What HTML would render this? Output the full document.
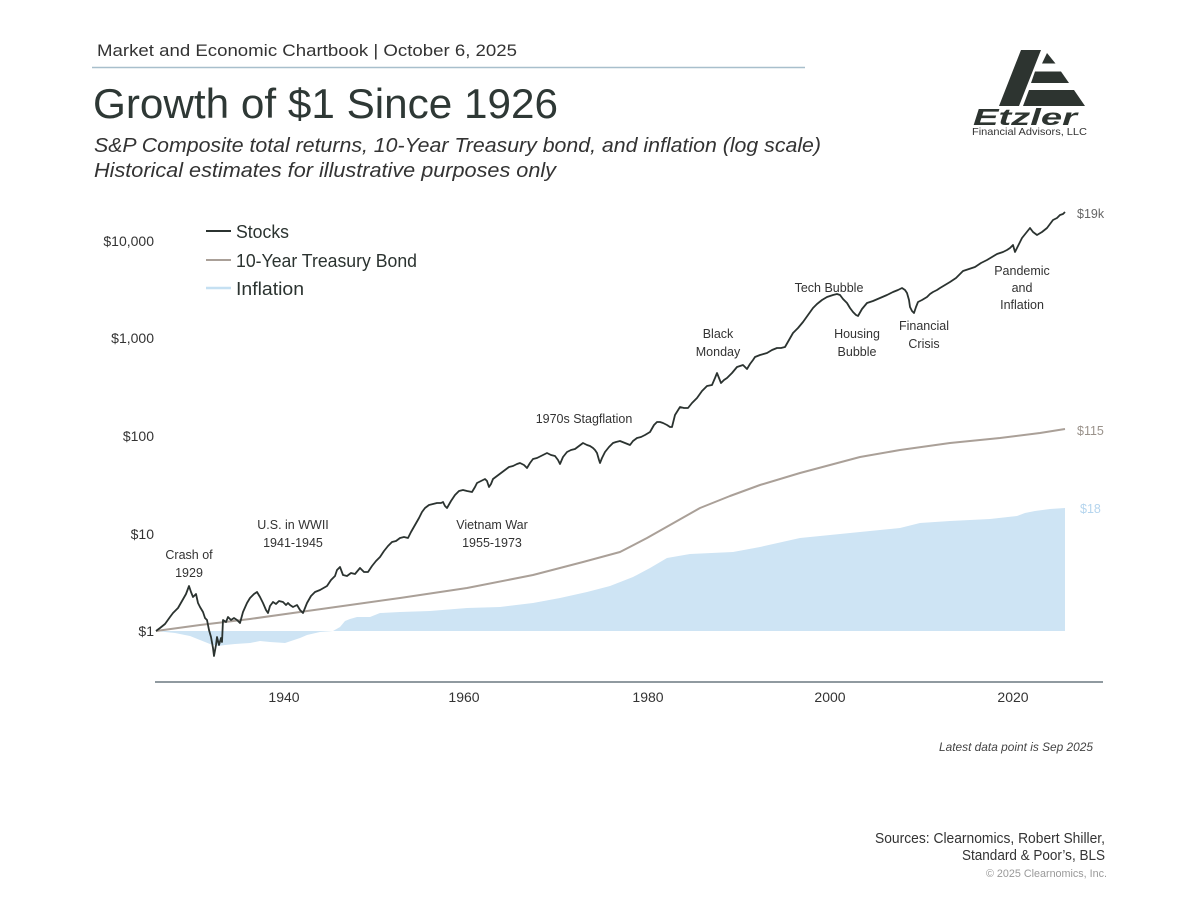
<!DOCTYPE html>
<html>
<head>
<meta charset="utf-8">
<style>
  html, body { margin:0; padding:0; background:#ffffff; }
  body { width:1200px; height:900px; overflow:hidden; }
  svg { display:block; }
  text { font-family: "Liberation Sans", "DejaVu Sans", sans-serif; }
</style>
</head>
<body>
<svg width="1200" height="900" viewBox="0 0 1200 900" xmlns="http://www.w3.org/2000/svg">
  <rect width="1200" height="900" fill="#ffffff"/>

  <!-- Header -->
  <text x="97" y="56" font-size="17" fill="#333" textLength="420" lengthAdjust="spacingAndGlyphs">Market and Economic Chartbook | October 6, 2025</text>
  <line x1="92" y1="67.5" x2="805" y2="67.5" stroke="#a8bfcc" stroke-width="1.5"/>
  <text x="93" y="118" font-size="42" fill="#2e3835" textLength="465" lengthAdjust="spacingAndGlyphs">Growth of $1 Since 1926</text>
  <text x="94" y="152" font-size="20" font-style="italic" fill="#333" textLength="727" lengthAdjust="spacingAndGlyphs">S&amp;P Composite total returns, 10-Year Treasury bond, and inflation (log scale)</text>
  <text x="94" y="177" font-size="20" font-style="italic" fill="#333" textLength="462" lengthAdjust="spacingAndGlyphs">Historical estimates for illustrative purposes only</text>

  <!-- Logo -->
  <g fill="#2d3430">
    <polygon points="1021,50 1041,50 1019,106 999,106"/>
    <polygon points="1047,53 1055.5,63.5 1042,63.5"/>
    <polygon points="1035,71.5 1061,71.5 1069,83 1031,83"/>
    <polygon points="1029,90 1074,90 1085,106 1023,106"/>
  </g>
  <text x="973" y="125" font-size="23" font-weight="bold" font-style="italic" fill="#2d3430" textLength="104" lengthAdjust="spacingAndGlyphs">Etzler</text>
  <text x="972" y="135" font-size="10.5" fill="#333" textLength="115" lengthAdjust="spacingAndGlyphs">Financial Advisors, LLC</text>

  <!-- Y axis labels -->
  <g font-size="14" fill="#333" text-anchor="end">
    <text x="154" y="246">$10,000</text>
    <text x="154" y="343">$1,000</text>
    <text x="154" y="441">$100</text>
    <text x="154" y="539">$10</text>
    <text x="154" y="636">$1</text>
  </g>

  <!-- Legend -->
  <line x1="206" y1="231" x2="231" y2="231" stroke="#2b3330" stroke-width="2"/>
  <text x="236" y="238" font-size="18.5" fill="#2b3330" textLength="53" lengthAdjust="spacingAndGlyphs">Stocks</text>
  <line x1="206" y1="260" x2="231" y2="260" stroke="#aaa098" stroke-width="2"/>
  <text x="236" y="267" font-size="18.5" fill="#2b3330" textLength="181" lengthAdjust="spacingAndGlyphs">10-Year Treasury Bond</text>
  <line x1="206" y1="288" x2="231" y2="288" stroke="#c5e0f2" stroke-width="2.5"/>
  <text x="236" y="295" font-size="18.5" fill="#2b3330" textLength="68" lengthAdjust="spacingAndGlyphs">Inflation</text>

  <!-- Inflation area -->
  <polygon fill="#cee4f4" points="156,631 165,632 175,633 190,636 200,640 210,644 218,646 225,645 235,644 250,643 260,641 270,642 285,643 300,638 307,635 320,632 333,631 340,627 345,621 350,619 357,617 370,617 380,613 400,612 430,611 467,608 500,607 533,603 560,598 587,592 610,586 633,577 650,568 667,558 690,554 733,552 760,547 800,538 830,535 870,531 900,528 920,523 950,521 990,519 1017,516 1025,513 1035,511 1050,509 1065,508 1065,631"/>

  <!-- Bond line -->
  <polyline fill="none" stroke="#aaa098" stroke-width="2" stroke-linejoin="round" points="156,631 200,625 250,619 300,612 350,605 400,598 467,588 533,575 583,562 620,552 647,538 670,525 700,508 730,496 760,485 800,473 830,465 860,457 900,450 950,443 1000,438 1040,433 1065,429"/>

  <!-- Stocks line -->
  <polyline fill="none" stroke="#2b3330" stroke-width="1.8" stroke-linejoin="round" points="156,631 160,628 165,624 170,617 173,613 178,608 182,601 186,594 189,586 191,592 193,597 196,594 198,603 200,607 203,612 205,618 207,620 209,630 211,637 213,648 214,656 216,645 217,637 219,645 221,638 222,642 223,620 226,622 228,617 231,620 234,618 237,620 240,623 243,612 247,603 250,598 254,594 257,592 260,597 263,603 266,610 268,613 270,606 273,602 276,604 279,601 283,602 286,605 288,603 290,605 293,607 297,605 300,610 303,613 307,603 311,596 315,592 320,590 327,586 331,580 335,576 337,570 340,567 343,575 347,576 351,573 355,574 360,568 364,572 368,572 372,566 376,561 380,557 384,551 388,546 392,542 396,541 400,538 404,537 408,538 411,532 415,525 419,518 422,512 425,508 429,505 433,504 437,503 441,503 443,502 445,506 447,508 451,501 455,495 459,491 463,490 467,491 472,492 475,487 477,483 481,481 485,479 487,481 489,487 491,484 493,479 497,476 501,473 505,470 509,467 513,466 517,464 520,463 524,465 527,468 530,463 533,459 537,458 541,456 545,454 547,453 551,455 555,456 558,460 560,464 563,457 567,452 571,450 575,449 579,446 583,443 587,445 590,446 593,448 595,450 597,453 599,460 600,463 602,458 605,452 609,447 613,443 616,442 620,441 625,443 630,445 633,441 637,438 641,437 645,435 650,432 654,425 657,422 660,422 663,423 667,425 670,427 672,427 675,415 680,407 684,408 688,408 692,403 697,398 702,391 707,386 712,385 715,378 717,373 719,378 721,383 724,380 727,378 732,373 737,367 740,366 743,365 747,369 750,364 753,360 755,357 760,355 767,353 772,350 777,348 781,348 785,347 789,340 793,333 798,328 803,322 808,315 813,308 817,304 822,300 827,297 833,295 837,294 840,295 843,299 847,303 850,308 853,312 856,315 858,316 862,309 867,303 873,301 880,298 887,295 893,292 898,290 902,288 905,290 907,293 909,300 910,307 912,311 914,313 916,307 918,302 922,300 927,297 930,294 933,292 937,290 940,288 945,285 950,282 956,278 963,271 969,269 975,267 981,263 987,260 992,257 997,254 1003,252 1007,250 1010,248 1013,245 1015,252 1018,246 1022,238 1026,233 1030,228 1033,232 1037,235 1042,232 1047,228 1050,224 1053,220 1057,218 1060,215 1063,214 1065,212"/>

  <!-- End labels -->
  <text x="1077" y="218" font-size="12.5" fill="#666">$19k</text>
  <text x="1077" y="435" font-size="12.5" fill="#9a928b">$115</text>
  <text x="1080" y="513" font-size="12.5" fill="#b5d5ee">$18</text>

  <!-- Annotations -->
  <g font-size="12.5" fill="#333" text-anchor="middle">
    <text x="189" y="559">Crash of</text>
    <text x="189" y="577">1929</text>
    <text x="293" y="529">U.S. in WWII</text>
    <text x="293" y="547">1941-1945</text>
    <text x="492" y="529">Vietnam War</text>
    <text x="492" y="547">1955-1973</text>
    <text x="584" y="423">1970s Stagflation</text>
    <text x="718" y="338">Black</text>
    <text x="718" y="356">Monday</text>
    <text x="829" y="292">Tech Bubble</text>
    <text x="857" y="338">Housing</text>
    <text x="857" y="356">Bubble</text>
    <text x="924" y="330">Financial</text>
    <text x="924" y="348">Crisis</text>
    <text x="1022" y="275">Pandemic</text>
    <text x="1022" y="292">and</text>
    <text x="1022" y="309">Inflation</text>
  </g>

  <!-- X axis -->
  <line x1="155" y1="682" x2="1103" y2="682" stroke="#6b7880" stroke-width="1.5"/>
  <g font-size="14" fill="#333" text-anchor="middle">
    <text x="284" y="702">1940</text>
    <text x="464" y="702">1960</text>
    <text x="648" y="702">1980</text>
    <text x="830" y="702">2000</text>
    <text x="1013" y="702">2020</text>
  </g>

  <!-- Footer -->
  <text x="1093" y="751" font-size="12" font-style="italic" fill="#444" text-anchor="end" textLength="154" lengthAdjust="spacingAndGlyphs">Latest data point is Sep 2025</text>
  <text x="1105" y="843" font-size="14.5" fill="#333" text-anchor="end" textLength="230" lengthAdjust="spacingAndGlyphs">Sources: Clearnomics, Robert Shiller,</text>
  <text x="1105" y="860" font-size="14.5" fill="#333" text-anchor="end" textLength="143" lengthAdjust="spacingAndGlyphs">Standard &amp; Poor’s, BLS</text>
  <text x="1107" y="877" font-size="11" fill="#999" text-anchor="end" textLength="121" lengthAdjust="spacingAndGlyphs">© 2025 Clearnomics, Inc.</text>
</svg>
</body>
</html>
